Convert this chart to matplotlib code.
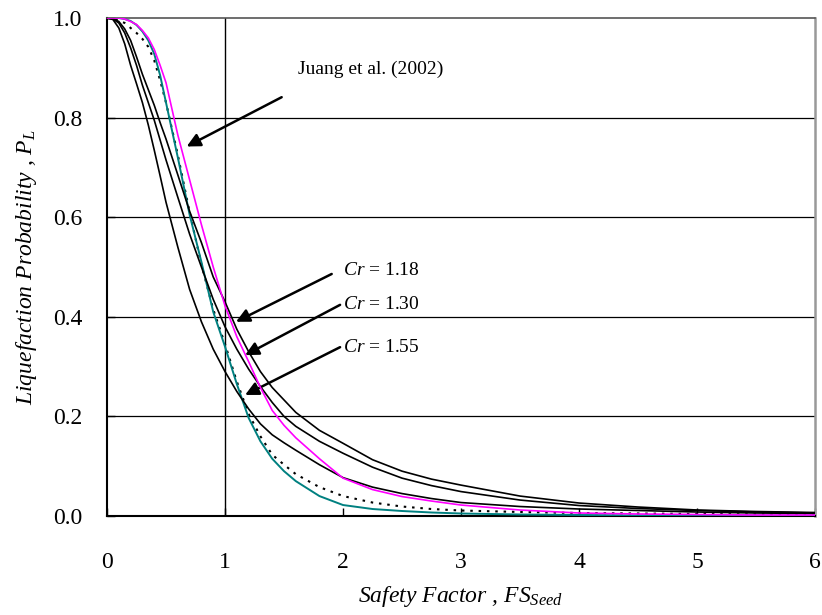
import matplotlib
matplotlib.use('Agg')
import matplotlib.pyplot as plt

plt.rcParams['font.family'] = ['Liberation Serif', 'DejaVu Serif']
plt.rcParams['mathtext.fontset'] = 'custom'
plt.rcParams['mathtext.it'] = 'Liberation Serif:italic'
plt.rcParams['mathtext.rm'] = 'Liberation Serif'

# safety factor values where curves were read
fs = [0, 0.05, 0.1, 0.15, 0.2, 0.25, 0.3, 0.35, 0.4, 0.45, 0.5, 0.6, 0.7, 0.8,
      0.9, 1.0, 1.1, 1.2, 1.3, 1.4, 1.5, 1.6, 1.8, 2.0, 2.25, 2.5, 2.75, 3.0,
      3.5, 4.0, 4.5, 5.0, 5.5, 6.0]

# Cr = 1.18
cr118 = [1.0, 0.999, 0.993, 0.978, 0.955, 0.922, 0.887, 0.856, 0.825, 0.79, 0.757,
         0.685, 0.612, 0.549, 0.48, 0.43, 0.375, 0.33, 0.29, 0.258, 0.233, 0.208,
         0.172, 0.146, 0.113, 0.09, 0.074, 0.062, 0.04, 0.026, 0.018, 0.012, 0.009,
         0.007]
# Cr = 1.30
cr130 = [1.0, 0.998, 0.99, 0.97, 0.94, 0.905, 0.865, 0.83, 0.795, 0.755, 0.715,
         0.64, 0.566, 0.5, 0.435, 0.38, 0.335, 0.295, 0.26, 0.228, 0.2, 0.18,
         0.15, 0.126, 0.098, 0.076, 0.061, 0.049, 0.032, 0.021, 0.015, 0.011,
         0.008, 0.006]
# Cr = 1.55
cr155 = [1.0, 0.997, 0.98, 0.948, 0.905, 0.868, 0.83, 0.785, 0.735, 0.683, 0.63,
         0.54, 0.455, 0.39, 0.335, 0.29, 0.25, 0.215, 0.185, 0.163, 0.147, 0.132,
         0.103, 0.077, 0.058, 0.045, 0.035, 0.027, 0.019, 0.014, 0.011, 0.008,
         0.006, 0.005]
# Juang et al. (2002)
juang = [1.0, 1.0, 1.0, 0.998, 0.993, 0.987, 0.975, 0.96, 0.937, 0.905, 0.87,
         0.765, 0.675, 0.585, 0.5, 0.422, 0.36, 0.31, 0.258, 0.212, 0.182, 0.157,
         0.115, 0.076, 0.053, 0.039, 0.03, 0.022, 0.012, 0.006, 0.004, 0.003,
         0.002, 0.002]
# teal curve
teal = [1.0, 1.0, 1.0, 0.998, 0.994, 0.986, 0.973, 0.955, 0.928, 0.885, 0.83,
        0.72, 0.605, 0.51, 0.41, 0.34, 0.265, 0.197, 0.15, 0.115, 0.09, 0.07,
        0.04, 0.022, 0.014, 0.01, 0.007, 0.005, 0.003, 0.002, 0.001, 0.001,
        0.001, 0.001]
# dotted curve
dotted = [1.0, 0.999, 0.995, 0.99, 0.98, 0.97, 0.958, 0.942, 0.915, 0.875, 0.83,
          0.725, 0.61, 0.505, 0.415, 0.345, 0.27, 0.205, 0.16, 0.123, 0.103,
          0.084, 0.058, 0.04, 0.027, 0.019, 0.014, 0.011, 0.008, 0.006, 0.005,
          0.004, 0.003, 0.003]

xticks = [0, 1, 2, 3, 4, 5, 6]
yticks = [0.0, 0.2, 0.4, 0.6, 0.8, 1.0]

fig = plt.figure(figsize=(8.22, 6.15), dpi=100)
ax = fig.add_axes([0.1302, 0.161, 0.8613, 0.8097])

for y in yticks[1:-1]:
    ax.axhline(y, color='k', lw=0.9, zorder=1)
ax.axvline(1, color='k', lw=1.0, zorder=1)

ax.plot(fs, dotted, color='k', lw=1.5, ls=(0, (1.2, 2.8)), zorder=3)
ax.plot(fs, teal, color='#008080', lw=1.4, zorder=3)
ax.plot(fs, juang, color='#ff00ff', lw=1.2, zorder=4)
ax.plot(fs, cr118, color='k', lw=1.2, zorder=3)
ax.plot(fs, cr130, color='k', lw=1.2, zorder=3)
ax.plot(fs, cr155, color='k', lw=1.2, zorder=3)

ax.set_xlim(0, 6)
ax.set_ylim(0, 1)
ax.set_xticks(xticks)
ax.set_xticklabels([str(v) for v in xticks])
ax.set_yticks(yticks)
ax.set_yticklabels(['%.1f' % v for v in yticks])
ax.tick_params(direction='in', length=6, width=1, labelsize=17)
ax.tick_params(axis='x', pad=26)
ax.tick_params(axis='y', pad=18)

ax.spines['left'].set_linewidth(1.5)
ax.spines['bottom'].set_linewidth(1.5)
ax.spines['top'].set_color('#555555')
ax.spines['top'].set_linewidth(1.2)
ax.spines['right'].set_color('#999999')
ax.spines['right'].set_linewidth(1.8)

ax.set_xlabel(r'Safety Factor , $FS_{Seed}$', fontsize=17, style='italic', labelpad=8)
ax.set_ylabel(r'Liquefaction Probability , $P_L$', fontsize=17, style='italic', labelpad=10)

arrow = dict(arrowstyle='-|>', lw=1.8, color='k', mutation_scale=20,
             shrinkA=0, shrinkB=0)

ax.text(1.62, 0.896, 'Juang et al. (2002)', fontsize=14, ha='left', va='center')
ax.annotate('', xy=(0.675, 0.742), xytext=(1.48, 0.841), arrowprops=arrow)

labels = [r'$Cr$ = 1.18', r'$Cr$ = 1.30', r'$Cr$ = 1.55']
label_y = [0.4926, 0.424, 0.339]
tails = [(1.904, 0.486), (1.975, 0.424), (1.975, 0.339)]
tips = [(1.093, 0.39), (1.17, 0.323), (1.17, 0.243)]
for lab, ly, tl, tp in zip(labels, label_y, tails, tips):
    ax.text(2.0, ly, lab, fontsize=14, ha='left', va='center')
    ax.annotate('', xy=tp, xytext=tl, arrowprops=arrow)

fig.savefig('out.png', dpi=100)
